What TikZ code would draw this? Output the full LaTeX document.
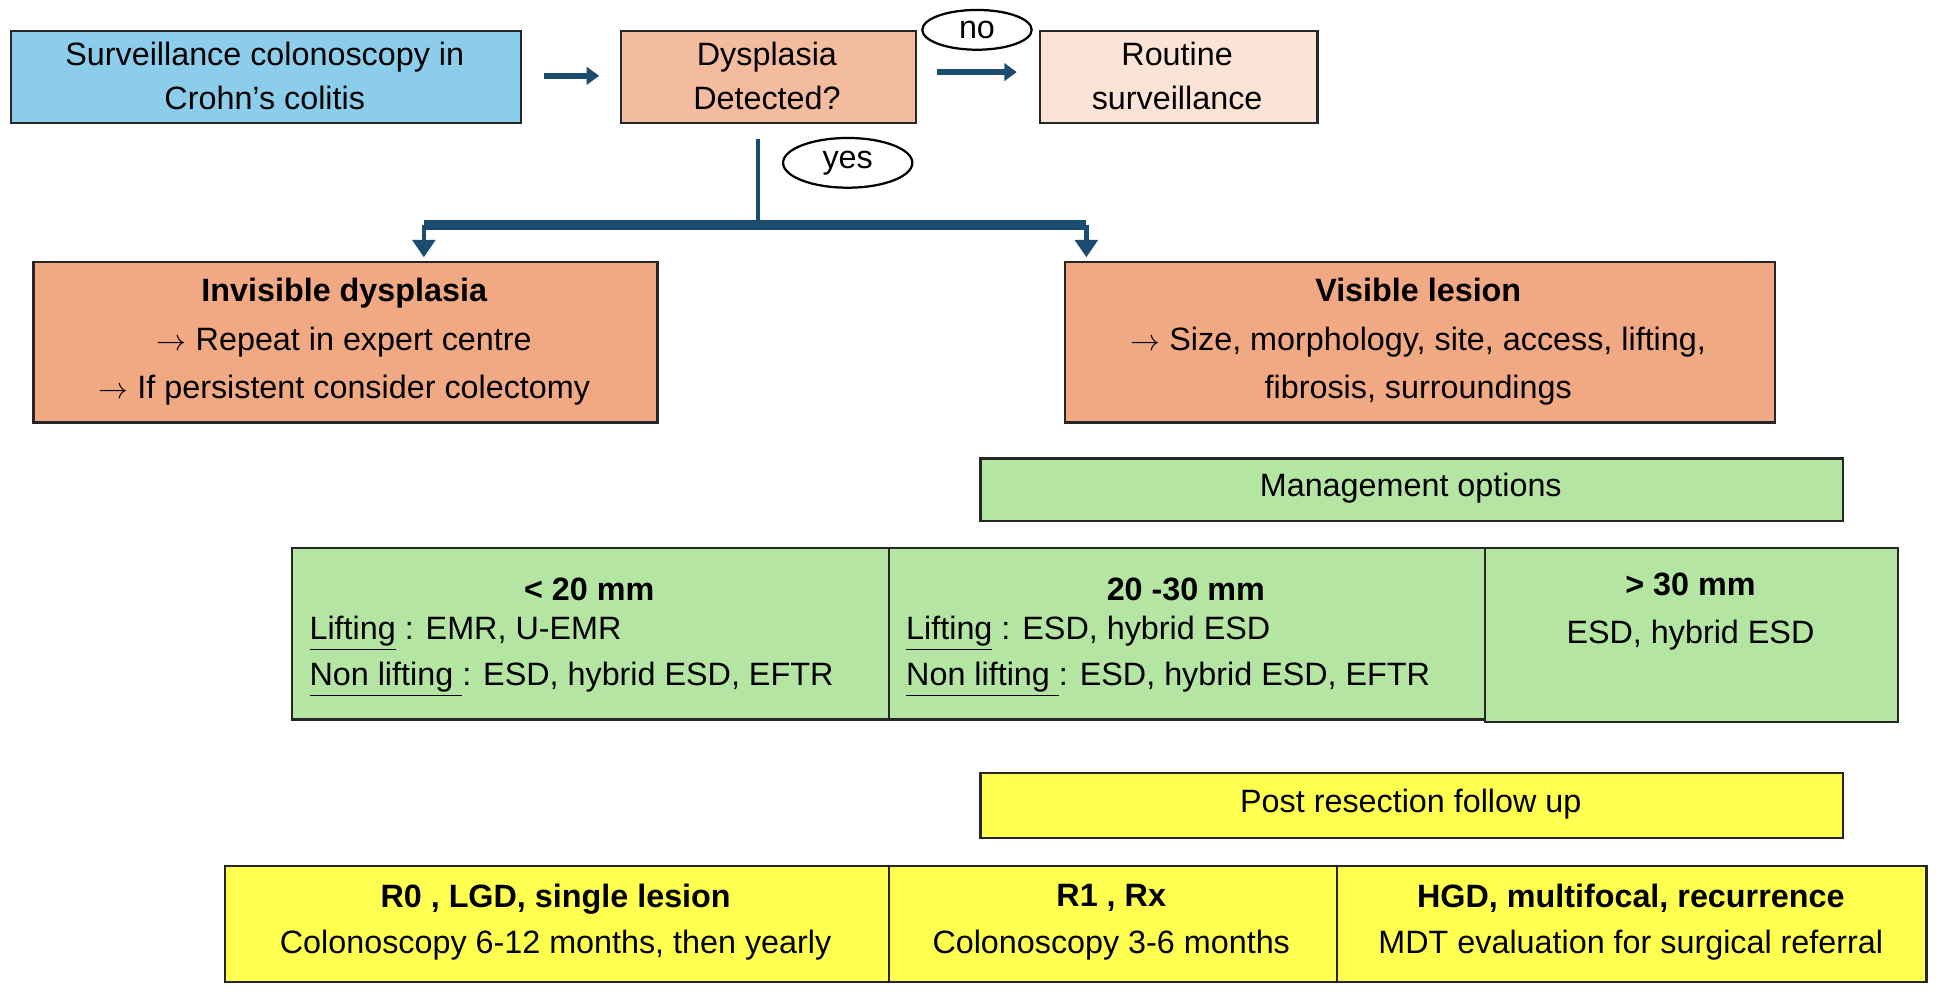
\documentclass[tikz,border=0pt]{standalone}
\usepackage{fontspec}
\setmainfont{Liberation Sans}
\usetikzlibrary{arrows.meta,shapes.geometric}
\definecolor{sky}{HTML}{8CCDEC}
\definecolor{peach}{HTML}{F4BC9E}
\definecolor{pale}{HTML}{FBE3D6}
\definecolor{sal}{HTML}{F1A983}
\definecolor{lgreen}{HTML}{B4E5A2}
\definecolor{yel}{HTML}{FFFF4F}
\definecolor{navy}{HTML}{1B4B6E}
\begin{document}
\begin{tikzpicture}[x=0.5pt,y=-0.5pt,
  box/.style={draw=black!85,line width=0.9pt,anchor=north west,inner sep=0pt},
  txt/.style={font=\fontsize{13pt}{15.6pt}\selectfont,align=center},
  lt/.style={font=\fontsize{13pt}{15.6pt}\selectfont,anchor=west},
  arr/.style={navy,line width=2.6pt,-{Triangle[length=5pt,width=7pt]}},
  lbl/.style={ellipse,draw=black,line width=0.9pt,fill=white,inner sep=0pt,font=\fontsize{13pt}{15pt}\selectfont}]
\useasboundingbox (0,0) rectangle (1568,798);
% top row
\node[box,fill=sky,minimum width=205pt,minimum height=37pt] (b1) at (8,24) {};
\node[txt] (t1) at (213,61) {Surveillance colonoscopy in\\[2pt]Crohn’s colitis};
\node[box,fill=peach,minimum width=118.5pt,minimum height=37pt] (b2) at (499,24) {};
\node[txt] (t2) at (617,61) {Dysplasia\\[2pt]Detected?};
\node[box,fill=pale,minimum width=111.5pt,minimum height=37pt] (b3) at (836,24) {};
\node[txt] (t3) at (947,61) {Routine\\[2pt]surveillance};
\coordinate (a1s) at (438,61); \coordinate (a1e) at (482,61);
\draw[arr] (a1s) -- (a1e);
\coordinate (a2s) at (754,58); \coordinate (a2e) at (818,58);
\draw[arr] (a2s) -- (a2e);
\node[lbl,minimum width=44pt,minimum height=16pt] (no) at (786,24) {no};
% yes branch
\coordinate (v0) at (610,112); \coordinate (v1) at (610,181);
\coordinate (hl) at (341,181); \coordinate (hr) at (874,181);
\coordinate (dl) at (341,207); \coordinate (dr) at (874,207);
\draw[navy,line width=1.8pt] (v0) -- (v1);
\draw[navy,line width=4pt] (hl) -- (hr);
\draw[navy,line width=1.8pt,-{Triangle[length=7pt,width=9pt]}] (hl) -- (dl);
\draw[navy,line width=1.8pt,-{Triangle[length=7pt,width=9pt]}] (hr) -- (dr);
\node[lbl,minimum width=52pt,minimum height=20pt] (yes) at (682,131) {yes};
% second row
\node[box,fill=sal,minimum width=251pt,minimum height=64.5pt] (inv) at (26,210) {};
\node[txt] (tinv) at (277,275) {\textbf{Invisible dysplasia}\\[4pt]$\rightarrow$ Repeat in expert centre\\[4pt]$\rightarrow$ If persistent consider colectomy};
\node[box,fill=sal,minimum width=285.5pt,minimum height=64.5pt] (vis) at (856,210) {};
\node[txt] (tvis) at (1141,275) {\textbf{Visible lesion}\\[4pt]$\rightarrow$ Size, morphology, site, access, lifting,\\[4pt]fibrosis, surroundings};
% management
\node[box,fill=lgreen,minimum width=347pt,minimum height=25pt] (mo) at (788,368) {};
\node[txt] (tmo) at (1135,393) {Management options};
\node[box,fill=lgreen,minimum width=240pt,minimum height=69pt] (g1) at (234,440) {};
\node[box,fill=lgreen,minimum width=240pt,minimum height=69pt] (g2) at (714,440) {};
\node[box,fill=lgreen,minimum width=166pt,minimum height=70pt] (g3) at (1194,440) {};
\node[txt] (g1t) at (474,474) {\textbf{< 20 mm}};
\node[lt] (g1a) at (242,510) {\underline{Lifting} : EMR, U-EMR};
\node[lt] (g1b) at (242,547) {\underline{Non lifting }: ESD, hybrid ESD, EFTR};
\node[txt] (g2t) at (954,474) {\textbf{20 -30 mm}};
\node[lt] (g2a) at (722,510) {\underline{Lifting} : ESD, hybrid ESD};
\node[lt] (g2b) at (722,547) {\underline{Non lifting }: ESD, hybrid ESD, EFTR};
\node[txt] (g3t) at (1360,492) {\textbf{> 30 mm}\\[4pt]ESD, hybrid ESD};
% post resection
\node[box,fill=yel,minimum width=347pt,minimum height=26pt] (pr) at (788,621) {};
\node[txt] (tpr) at (1135,647) {Post resection follow up};
\node[box,fill=yel,minimum width=267pt,minimum height=46.5pt] (y1) at (180,696) {};
\node[box,fill=yel,minimum width=180.5pt,minimum height=46.5pt] (y2) at (714,696) {};
\node[box,fill=yel,minimum width=237pt,minimum height=46.5pt] (y3) at (1075,696) {};
\node[txt] (y1t) at (447,742) {\textbf{R0 , LGD, single lesion}\\[3pt]Colonoscopy 6-12 months, then yearly};
\node[txt] (y2t) at (894,742) {\textbf{R1 , Rx}\\[3pt]Colonoscopy 3-6 months};
\node[txt] (y3t) at (1312,742) {\textbf{HGD, multifocal, recurrence}\\[3pt]MDT evaluation for surgical referral};
\end{tikzpicture}
\end{document}
